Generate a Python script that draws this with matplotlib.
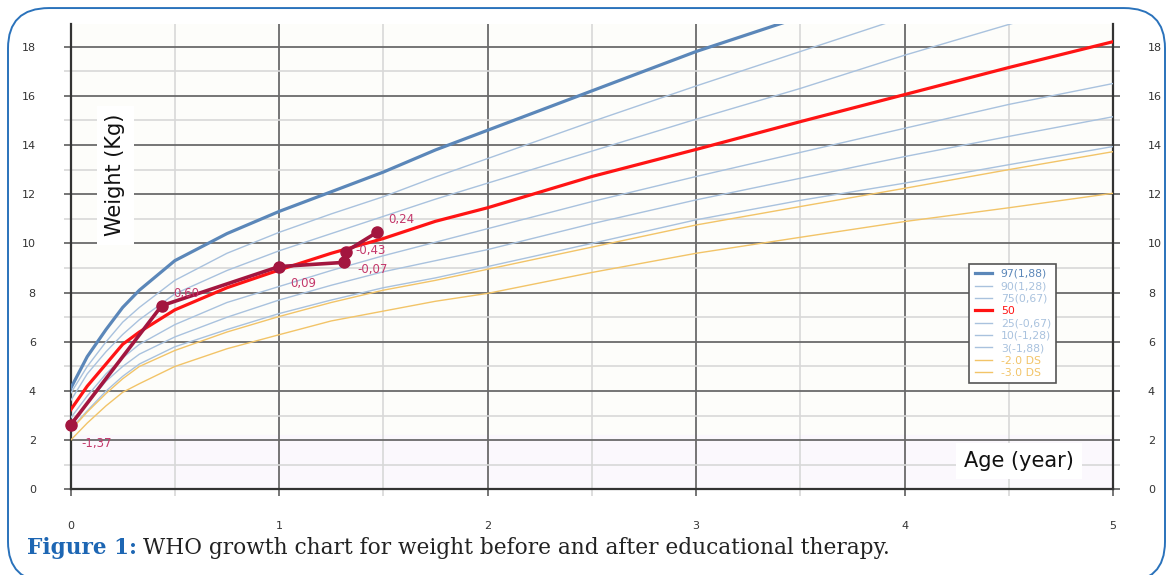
import numpy as np
import matplotlib
matplotlib.use("Agg")
import matplotlib.pyplot as plt
from matplotlib.patches import FancyBboxPatch

# WHO weight-for-age reference curves (kg)
ages = [0, 0.08, 0.17, 0.25, 0.33, 0.5, 0.75, 1, 1.25, 1.5, 1.75, 2, 2.5, 3, 3.5, 4, 4.5, 5]
p97 = [4.1, 5.4, 6.5, 7.4, 8.1, 9.3, 10.4, 11.3, 12.1, 12.9, 13.8, 14.6, 16.2, 17.8, 19.2, 20.6, 22.0, 23.4]
p90 = [3.9, 5.0, 6.0, 6.8, 7.4, 8.5, 9.6, 10.45, 11.2, 11.9, 12.7, 13.45, 14.95, 16.4, 17.8, 19.2, 20.5, 21.8]
p75 = [3.6, 4.7, 5.6, 6.3, 6.9, 7.95, 8.9, 9.7, 10.4, 11.1, 11.8, 12.45, 13.75, 15.05, 16.3, 17.65, 18.9, 20.1]
p50 = [3.23, 4.2, 5.1, 5.9, 6.4, 7.3, 8.2, 8.92, 9.6, 10.2, 10.9, 11.45, 12.72, 13.82, 14.95, 16.05, 17.15, 18.2]
p25 = [2.9, 3.8, 4.7, 5.35, 5.9, 6.7, 7.6, 8.25, 8.9, 9.5, 10.05, 10.6, 11.7, 12.72, 13.7, 14.68, 15.65, 16.5]
p10 = [2.7, 3.5, 4.4, 5.0, 5.5, 6.2, 7.0, 7.7, 8.3, 8.85, 9.3, 9.75, 10.8, 11.77, 12.65, 13.53, 14.35, 15.15]
p3 = [2.45, 3.2, 4.0, 4.6, 5.1, 5.8, 6.5, 7.15, 7.7, 8.2, 8.6, 9.06, 10.0, 10.96, 11.75, 12.45, 13.2, 13.94]
sd_m2 = [2.4, 3.15, 3.9, 4.5, 5.0, 5.65, 6.4, 7.03, 7.6, 8.1, 8.5, 8.95, 9.85, 10.75, 11.5, 12.24, 13.0, 13.73]
sd_m3 = [2.0, 2.7, 3.4, 3.95, 4.3, 5.0, 5.72, 6.29, 6.85, 7.25, 7.65, 7.97, 8.82, 9.6, 10.25, 10.89, 11.45, 12.04]

curve_labels = ["97(1,88)", "90(1,28)", "75(0,67)", "50", "25(-0,67)", "10(-1,28)",
                "3(-1,88)", "-2.0 DS", "-3.0 DS"]

# patient measurements
pat_age = [0, 0.437, 1.0, 1.31, 1.32, 1.469]
pat_wt = [2.62, 7.47, 9.06, 9.23, 9.67, 10.45]
pat_z = ["-1,37", "0,60", "0,09", "-0,07", "-0,43", "0,24"]
label_offsets = [(8, -13), (8, 9), (8, -12), (10, -5), (7, 1), (8, 9)]

light_blue = "#a9c2de"
orange = "#f2c468"
styles = [("#5b87b9", 2.3), (light_blue, 1.0), (light_blue, 1.0), ("#ff1414", 2.3),
          (light_blue, 1.0), (light_blue, 1.0), (light_blue, 1.0), (orange, 1.0), (orange, 1.0)]

fig = plt.figure(figsize=(11.72, 5.75), dpi=100)
ax = fig.add_axes([0.0602, 0.1487, 0.8895, 0.8096])
ax.set_facecolor("#fdfdfa")

ax.set_xlim(0, 5)
ax.set_ylim(0, 18.92)
ax.axhspan(0, 2.2, color="#fbf8fd", zorder=0)

ax.set_xticks(range(0, 6))
ax.set_xticks(np.arange(0.5, 5, 1), minor=True)
ax.set_yticks(range(0, 19, 2))
ax.set_yticks(range(1, 19, 2), minor=True)
ax.grid(True, which="major", color="#6a6a6a", linewidth=1.3, zorder=1)
ax.grid(True, which="minor", color="#d8d8d8", linewidth=1.2, zorder=1)
ax.set_axisbelow(True)

ax.tick_params(axis="both", which="major", length=5, width=1.3, color="#6a6a6a",
               labelsize=8, labelcolor="#333333")
ax.tick_params(axis="both", which="minor", length=5, width=1.2, color="#d8d8d8")
ax.tick_params(axis="y", which="both", left=True, right=True, labelleft=True, labelright=True)
ax.tick_params(axis="y", which="major", pad=20)
ax.tick_params(axis="x", which="major", pad=18)
ax.tick_params(axis="x", which="minor", bottom=True)

for side in ["left", "right", "bottom"]:
    ax.spines[side].set_color("#333333")
    ax.spines[side].set_linewidth(1.6)
ax.spines["top"].set_visible(False)

series = [p97, p90, p75, p50, p25, p10, p3, sd_m2, sd_m3]
for vals, lab, (col, lw) in zip(series, curve_labels, styles):
    ax.plot(ages, vals, color=col, linewidth=lw, label=lab, zorder=3)

ax.plot(pat_age, pat_wt, color="#a3163f", linewidth=2.6, marker="o", markersize=8,
        zorder=5, clip_on=False)
for a, w, z, off in zip(pat_age, pat_wt, pat_z, label_offsets):
    ax.annotate(z, (a, w), xytext=off, textcoords="offset points", fontsize=8.5,
                color="#c4386b", ha="left", va="center", zorder=6)

ax.text(0.215, 12.78, "Weight (Kg)", rotation=90, fontsize=15, ha="center", va="center",
        color="#111111", bbox=dict(facecolor="white", edgecolor="none", pad=6), zorder=4)
ax.text(4.55, 1.16, "Age (year)", fontsize=15, ha="center", va="center", color="#111111",
        bbox=dict(facecolor="white", edgecolor="none", pad=6), zorder=4)

leg = ax.legend(loc="upper left", bbox_to_anchor=(0.857, 0.497), fontsize=7.8,
                labelcolor="linecolor", frameon=True, fancybox=False, edgecolor="#555555",
                framealpha=1, handlelength=1.6, handletextpad=0.8, labelspacing=0.22,
                borderpad=0.5)
leg.get_frame().set_linewidth(1.2)

# rounded frame and caption
frame = FancyBboxPatch((8 / 1172, -0.012), 1157 / 1172, 0.998, transform=fig.transFigure,
                       boxstyle="round,pad=0,rounding_size=0.035", fill=False,
                       edgecolor="#2a72bb", linewidth=1.4, mutation_aspect=2.0)
fig.patches.append(frame)

t1 = fig.text(0.023, 0.047, "Figure 1:", fontsize=15.6, fontweight="bold", color="#1d66b3",
              family="DejaVu Serif", va="center")
fig.canvas.draw()
bb = t1.get_window_extent()
fig.text(bb.x1 / fig.bbox.width + 0.005, 0.047,
         "WHO growth chart for weight before and after educational therapy.",
         fontsize=15.6, color="#222222", family="DejaVu Serif", va="center")

fig.savefig("out.png", dpi=100)
